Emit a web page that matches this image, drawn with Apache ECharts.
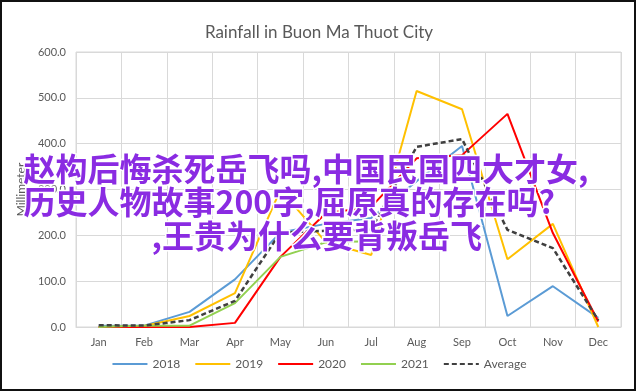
<!DOCTYPE html>
<html>
<head>
<meta charset="utf-8">
<script src="https://cdn.jsdelivr.net/npm/echarts@6/dist/echarts.min.js"></script>
<style>
html,body{margin:0;padding:0;background:#fff;}
#c{width:638px;height:392px;}
</style>
</head>
<body>
<div id="c"></div>
<script>
const months = ['Jan','Feb','Mar','Apr','May','Jun','Jul','Aug','Sep','Oct','Nov','Dec'];
const yTicks = [0,100,200,300,400,500,600];
const s2018 = [3, 3, 33, 104, 206, 225, 238, 318, 395, 24, 89, 20];
const s2019 = [0, 2, 24, 74, 299, 185, 157, 515, 475, 148, 225, 0];
const s2020 = [0, 0, 0, 9, 153, 248, 262, 368, 375, 465, 205, 12];
const s2021 = [0, 3, 3, 52, 153, 185, 187];
const sAvg  = [4, 3, 15, 57, 206, 210, 213, 393, 410, 212, 172, 15];
const seriesNames = ['2018','2019','2020','2021','Average'];
const titleText = 'Rainfall in Buon Ma Thuot City';
const yName = 'Millimeter';
const overlayLines = ['赵构后悔杀死岳飞吗,中国民国四大才女,', '历史人物故事200字,屈原真的存在吗?', ',王贵为什么要背叛岳飞'];

const chart = echarts.init(document.getElementById('c'), null, {renderer:'canvas'});
const font = 'Lato, "Open Sans", sans-serif';
const gray = '#595959';
const cjk = '"Noto Sans CJK SC", sans-serif';
function line(name, data, color, dashed){
  return {
    name, type:'line', data, symbol:'none', smooth:false,
    lineStyle:{color, width: dashed ? 2.5 : 2, type: dashed ? [5,3] : 'solid'},
    itemStyle:{color},
    z: dashed ? 5 : 3
  };
}
chart.setOption({
  animation:false,
  title:{text:titleText, left:'center', top:19, textStyle:{fontFamily:font, fontSize:17, fontWeight:'normal', color:gray}},
  grid:{left:76, right:17, top:52, bottom:65, show:true, borderColor:'#d9d9d9', borderWidth:1},
  legend:{data:seriesNames, bottom:17, left:'center', itemWidth:35, itemHeight:10, itemGap:14,
    itemStyle:{opacity:0},
    textStyle:{fontFamily:font, fontSize:12, color:gray}},
  xAxis:{type:'category', data:months, boundaryGap:true,
    axisLine:{lineStyle:{color:'#d9d9d9'}}, axisTick:{show:false},
    axisLabel:{fontFamily:font, fontSize:11, color:gray, margin:10},
    splitLine:{show:true, lineStyle:{color:'#d9d9d9', width:1}}},
  yAxis:{type:'value', min:yTicks[0], max:yTicks[yTicks.length-1], interval:100,
    name:yName, nameLocation:'middle', nameGap:47, nameRotate:90,
    nameTextStyle:{fontFamily:font, fontSize:12, color:gray},
    axisLine:{show:false}, axisTick:{show:false},
    axisLabel:{fontFamily:font, fontSize:11, color:gray, margin:10, formatter:v=>v.toFixed(1)},
    splitLine:{lineStyle:{color:'#d9d9d9', width:1}}},
  series:[
    line('2018', s2018, '#5B9BD5'),
    line('2019', s2019, '#FFC000'),
    line('2020', s2020, '#FF0000'),
    line('2021', s2021, '#92D050'),
    line('Average', sAvg, '#404040', true)
  ],
  graphic:[
    {type:'rect', shape:{x:1, y:1, width:634, height:389}, style:{fill:'none', stroke:'#111', lineWidth:2}, z:200, silent:true},
    {type:'text', left:22, top:151, z:300, style:{text:overlayLines[0], fill:'#8A2BE2', stroke:'#fff', lineWidth:3, font:'bold 32px ' + cjk}},
    {type:'text', left:22, top:184, z:300, style:{text:overlayLines[1], fill:'#8A2BE2', stroke:'#fff', lineWidth:3, font:'bold 32px ' + cjk}},
    {type:'text', left:150, top:218, z:300, style:{text:overlayLines[2], fill:'#8A2BE2', stroke:'#fff', lineWidth:3, font:'bold 32px ' + cjk}}
  ]
});
</script>
</body>
</html>
